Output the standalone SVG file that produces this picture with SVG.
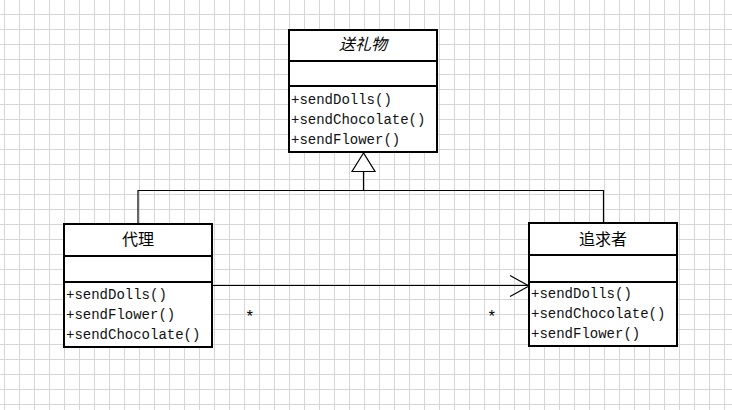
<svg xmlns="http://www.w3.org/2000/svg" width="732" height="410" viewBox="0 0 732 410">
<style>
.box{fill:#fff;stroke:#000;stroke-width:2}
.div{stroke:#000;stroke-width:2}
.conn{fill:none;stroke:#000;stroke-width:1.2}
.name{font-family:"Noto Sans CJK SC","Noto Sans",sans-serif;font-size:16px;fill:#000;text-anchor:middle}
.m{font-family:"Liberation Mono","DejaVu Sans Mono",monospace;font-size:14px;fill:#111}
.mult{font-family:"Liberation Mono",monospace;font-size:16px;fill:#000}
</style>
<defs>
<pattern id="grid" x="4" y="14" width="15" height="15" patternUnits="userSpaceOnUse">
<path d="M0 0.5H15M0.5 0V15" stroke="#d6d6d6" stroke-width="1" fill="none"/>
</pattern>
</defs>
<rect width="732" height="410" fill="#fff"/>
<rect width="732" height="410" fill="url(#grid)"/>

<g id="connectors">
<path class="conn" d="M138 225V190.5H603.5V223"/>
<path class="conn" d="M363.5 171V190.5"/>
<polygon points="363.5,153 352,171.5 375,171.5" fill="#fff" stroke="#000" stroke-width="1.2"/>
<path class="conn" d="M213 285.5H528"/>
<path class="conn" d="M510 275.5L529 286L510 296.5"/>
<text class="mult" x="245" y="322">*</text>
<text class="mult" x="487" y="322">*</text>
</g>

<g id="gift">
<rect class="box" x="289" y="30" width="148" height="122"/>
<path class="div" d="M289 61H437M289 86H437"/>
<text class="name" x="363" y="50" font-style="italic">送礼物</text>
<text class="m" x="291" y="104">+sendDolls()</text>
<text class="m" x="291" y="124">+sendChocolate()</text>
<text class="m" x="291" y="144">+sendFlower()</text>
</g>

<g id="proxy">
<rect class="box" x="64" y="224" width="148" height="123"/>
<path class="div" d="M64 256H212M64 282H212"/>
<text class="name" x="138" y="245">代理</text>
<text class="m" x="66" y="299">+sendDolls()</text>
<text class="m" x="66" y="319">+sendFlower()</text>
<text class="m" x="66" y="339">+sendChocolate()</text>
</g>

<g id="pursuer">
<rect class="box" x="529" y="223" width="148" height="123"/>
<path class="div" d="M529 255H677M529 282H677"/>
<text class="name" x="603" y="245">追求者</text>
<text class="m" x="531" y="298">+sendDolls()</text>
<text class="m" x="531" y="318">+sendChocolate()</text>
<text class="m" x="531" y="338">+sendFlower()</text>
</g>
</svg>
